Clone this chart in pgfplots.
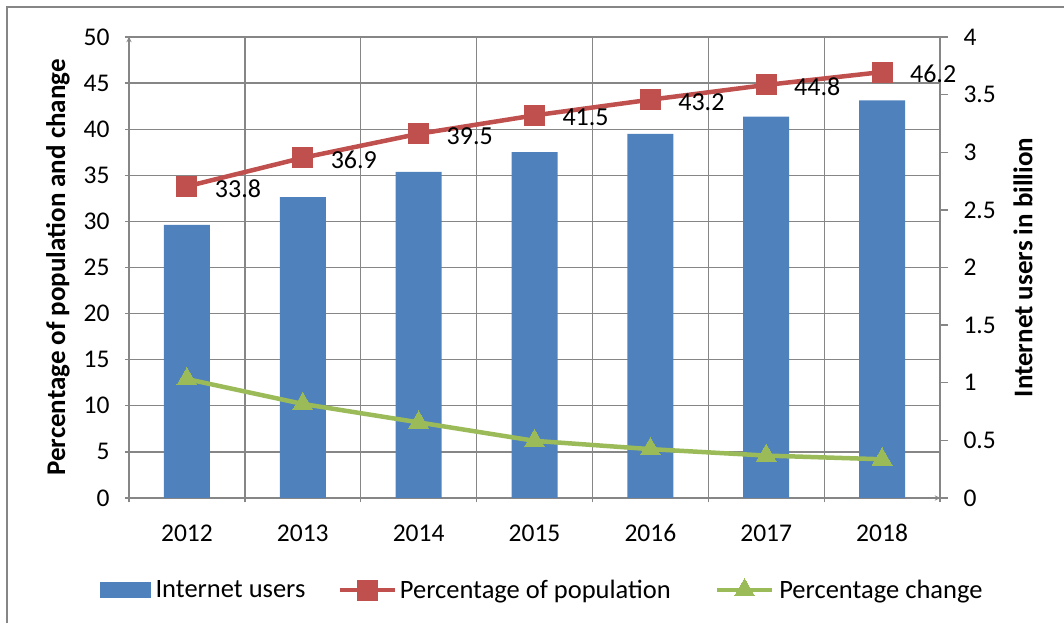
\documentclass[border=0pt]{standalone}
\usepackage{fontspec}
\setmainfont{Carlito}
\usepackage{pgfplots}
\pgfplotsset{compat=1.18}
\definecolor{barblue}{HTML}{4F81BD}
\definecolor{linered}{HTML}{C0504D}
\definecolor{linegreen}{HTML}{9BBB59}
\definecolor{gridgray}{HTML}{868686}
\pgfplotsset{
  base/.style={
    at={(129pt,125pt)}, anchor=south west, scale only axis,
    width=811pt, height=461pt,
    xmin=-0.5, xmax=6.5,
    tick label style={font=\fontsize{25.5}{30}\selectfont},
    label style={font=\fontsize{27}{32}\selectfont\bfseries},
    /pgf/number format/assume math mode=true,
    tick align=outside,
    tick style={gridgray, line width=1.3pt},
    axis line style={-, gridgray, line width=1.3pt},
  }
}
\begin{document}
\begin{tikzpicture}[x=1pt,y=1pt]
\useasboundingbox (0,0) rectangle (1064,623);
\draw[gridgray, line width=1.3pt] (7,0) -- (7,616) -- (1064,616);

% grid + left axis
\begin{axis}[base,
  ymin=0, ymax=50, ytick={0,5,...,50},
  axis lines=left,
  xtick={0,1,2,3,4,5,6},
  xticklabels={2012,2013,2014,2015,2016,2017,2018},
  minor xtick={-0.5,0.5,1.5,2.5,3.5,4.5,5.5,6.5},
  xminorgrids, ymajorgrids,
  grid style={gridgray, line width=1.3pt},
  minor grid style={gridgray, line width=1.3pt},
  major grid style={gridgray, line width=1.3pt},
  every major x tick/.append style={draw=none},
  major tick length=8pt, minor tick length=9pt,
  xticklabel style={yshift=-19pt},
  yticklabel style={xshift=-12pt},
  ylabel={Percentage of population and change},
  ylabel style={at={(axis description cs:-0.0875,0.5)}, anchor=center},
]
\end{axis}

% bars, right axis
\begin{axis}[base,
  ymin=0, ymax=4, ytick={0,0.5,...,4},
  axis y line*=right, axis x line=none,
  major tick length=8pt,
  yticklabel style={xshift=12pt},
  ylabel={Internet users in billion},
  ylabel style={at={(axis description cs:1.1023,0.5)}, anchor=center, rotate=0},
  ybar, bar width=46pt,
]
\addplot[fill=barblue, draw=none] coordinates {
  (0,2.37) (1,2.61) (2,2.83) (3,3.00) (4,3.16) (5,3.31) (6,3.45)};
\end{axis}

% lines
\begin{axis}[base,
  ymin=0, ymax=50, hide axis,
  legend columns=3,
  legend style={at={(axis description cs:-0.0358,-0.198)}, anchor=west,
    draw=none, fill=none, inner sep=0pt,
    font=\fontsize{26.5}{31}\selectfont,
    nodes={inner sep=0pt},
    /tikz/column 1/.style={column sep=5pt},
    /tikz/column 2/.style={column sep=32pt},
    /tikz/column 3/.style={column sep=3pt},
    /tikz/column 4/.style={column sep=44pt},
    /tikz/column 5/.style={column sep=5pt}},
  legend image code/.code={\draw[mark repeat=2,mark phase=2,#1]
    plot coordinates {(0pt,0pt) (27.5pt,0pt) (55pt,0pt)};},
]
\addlegendimage{legend image code/.code={\fill[barblue] (0pt,-7.5pt) rectangle (50pt,7.5pt);}}
\addlegendentry{Internet users}
\addplot[linered, line width=4.5pt, mark=square*, mark size=10pt,
  mark options={solid, fill=linered, draw=linered, line width=0pt},
  nodes near coords, point meta=y,
  every node near coord/.append style={anchor=west, text=black, xshift=28pt, yshift=-2pt,
    font=\fontsize{26}{31}\selectfont, inner sep=0pt},
] coordinates {
  (0,33.8) (1,36.9) (2,39.5) (3,41.5) (4,43.2) (5,44.8) (6,46.2)};
\addlegendentry{Percentage of population}
\addplot[linegreen, line width=4.5pt, mark=triangle*, mark size=11.5pt,
  mark options={solid, fill=linegreen, draw=linegreen, line width=0pt},
] coordinates {
  (0,12.9) (1,10.2) (2,8.2) (3,6.2) (4,5.3) (5,4.6) (6,4.2)};
\addlegendentry{Percentage change}
\end{axis}
\end{tikzpicture}
\end{document}
